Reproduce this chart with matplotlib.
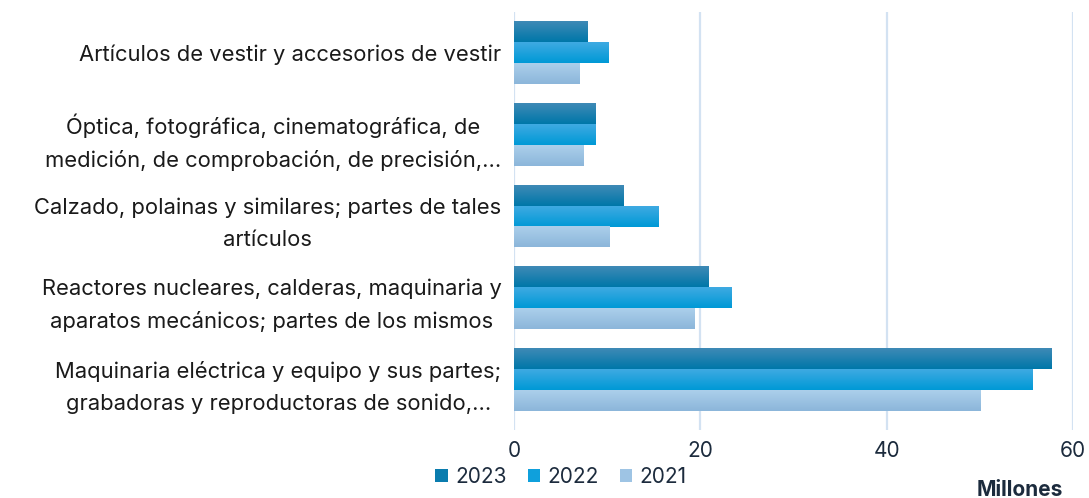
import numpy as np
import matplotlib
matplotlib.use('Agg')
import matplotlib.pyplot as plt
from matplotlib.colors import LinearSegmentedColormap
from matplotlib.patches import Patch

plt.rcParams['font.family'] = ['Inter', 'DejaVu Sans']

categorias = [
    'Artículos de vestir y accesorios de vestir',
    'Óptica, fotográfica, cinematográfica, de\nmedición, de comprobación, de precisión,...',
    'Calzado, polainas y similares; partes de tales\nartículos',
    'Reactores nucleares, calderas, maquinaria y\naparatos mecánicos; partes de los mismos',
    'Maquinaria eléctrica y equipo y sus partes;\ngrabadoras y reproductoras de sonido,...',
]
anios = ['2023', '2022', '2021']
v2023 = [7.9, 8.8, 11.7, 20.9, 57.7]
v2022 = [10.1, 8.8, 15.5, 23.3, 55.7]
v2021 = [7.0, 7.5, 10.3, 19.4, 50.1]
valores = [v2023, v2022, v2021]

# colores (arriba -> abajo del degradado)
grad = [('#3e8ab6', '#0077a9'), ('#3eaae2', '#0099d6'), ('#abcfeb', '#8cb6da')]
solidos = ['#0a7cae', '#0fa0dc', '#9ec4e4']

fig = plt.figure(figsize=(10.89, 4.98), dpi=100)
ax = fig.add_axes([514/1089, 1-430/498, (1073-514)/1089, (430-12)/498])

y = np.arange(len(categorias))
h = 0.256
for i, vals in enumerate(valores):
    off = (i - 1) * h
    bars = ax.barh(y + off, vals, height=h, color=solidos[i], zorder=2)
    cmap = LinearSegmentedColormap.from_list('g%d' % i, [grad[i][0], grad[i][1]])
    for b in bars:
        x0, y0, w, hh = b.get_x(), b.get_y(), b.get_width(), b.get_height()
        ax.imshow(np.linspace(0, 1, 50).reshape(-1, 1), cmap=cmap, aspect='auto',
                  extent=(x0, x0 + w, y0 + hh, y0), zorder=3, interpolation='bilinear')

ax.set_ylim(len(categorias) - 0.5 + 0.12, -0.5)
ax.set_xlim(0, 60)
ax.set_xticks([0, 20, 40, 60])
ax.set_yticks(y)
ax.set_yticklabels(categorias, fontsize=15.8, color='#1a1a1a')
for t in ax.get_yticklabels():
    t.set_multialignment('center')
    t.set_linespacing(1.7)
ax.tick_params(axis='y', length=0, pad=9)
ax.tick_params(axis='x', length=0, pad=8, labelsize=15, labelcolor='#1c2b3d')
ax.grid(axis='x', color='#d3e2f2', linewidth=1.6, zorder=1)
for s in ax.spines.values():
    s.set_visible(False)

handles = [Patch(facecolor=solidos[i], label=anios[i]) for i in range(3)]
fig.legend(handles=handles, loc='center', bbox_to_anchor=(561/1089, 1-477/498), ncol=3,
           frameon=False, fontsize=15, handlelength=0.6, handleheight=0.6,
           handletextpad=0.35, columnspacing=1.0, labelcolor='#1c2b3d',
           borderpad=0, borderaxespad=0)
fig.text(1020/1089, 1-490/498, 'Millones', ha='center', va='center', fontsize=15,
         fontweight='bold', color='#1c2b3d')

fig.savefig('out.png', dpi=100)
